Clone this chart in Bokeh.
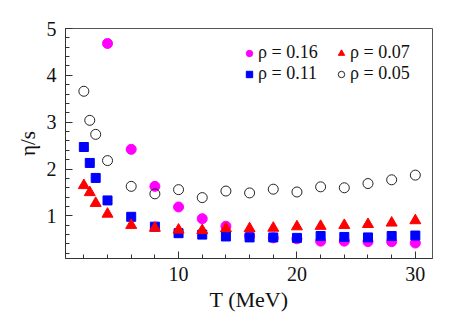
from bokeh.plotting import figure
from bokeh.models import FixedTicker, Legend, LegendItem
from bokeh.embed import file_html
from bokeh.resources import INLINE

T = [2, 2.5, 3, 4, 6, 8, 10, 12, 14, 16, 18, 20, 22, 24, 26, 28, 30]
T16 = [4, 6, 8, 10, 12, 14, 16, 18, 20, 22, 24, 26, 28, 30]
rho016 = [4.68, 2.42, 1.63, 1.19, 0.94, 0.78, 0.57, 0.53, 0.51, 0.46, 0.46, 0.45, 0.45, 0.42]
rho011 = [2.47, 2.13, 1.81, 1.33, 0.98, 0.77, 0.63, 0.60, 0.56, 0.54, 0.54, 0.53, 0.57, 0.55, 0.54, 0.57, 0.58]
rho007 = [1.65, 1.50, 1.27, 1.04, 0.80, 0.74, 0.70, 0.69, 0.73, 0.73, 0.74, 0.77, 0.78, 0.80, 0.82, 0.85, 0.90]
rho005 = [3.66, 3.04, 2.74, 2.18, 1.63, 1.47, 1.56, 1.39, 1.53, 1.49, 1.57, 1.51, 1.62, 1.60, 1.69, 1.77, 1.87]
labels = ["\u03c1 = 0.16", "\u03c1 = 0.11", "\u03c1 = 0.07", "\u03c1 = 0.05"]

FONT = "Liberation Serif"

p = figure(width=450, height=324, output_backend="svg", toolbar_location=None,
           x_range=(0.45, 31.45), y_range=(0.09, 5.0),
           min_border_left=65, min_border_right=18, min_border_top=28, min_border_bottom=66)
p.grid.visible = False
p.outline_line_color = "#555555"
p.outline_line_width = 1

r1 = p.scatter(T16, rho016, marker="circle", size=10, fill_color="#ff00ff", line_color="#ff00ff")
r2 = p.scatter(T, rho011, marker="square", size=9, fill_color="#0000ff", line_color="#0000ff")
r3 = p.scatter(T, rho007, marker="triangle", size=11, fill_color="#ff0000", line_color="#ff0000")
r4 = p.scatter(T, rho005, marker="circle", size=10, fill_color=None, line_color="#222222", line_width=1)


def make_legend(items, loc):
    lg = Legend(items=items, location=loc, orientation="vertical")
    lg.label_text_font = FONT
    lg.label_text_font_size = "18px"
    lg.label_text_color = "#111111"
    lg.background_fill_alpha = 0
    lg.border_line_color = None
    lg.glyph_width = 16
    lg.glyph_height = 16
    lg.label_standoff = 1
    lg.spacing = 0
    lg.padding = 0
    lg.margin = 0
    lg.label_height = 20
    return lg


leg1 = make_legend([LegendItem(label=labels[0], renderers=[r1]),
                    LegendItem(label=labels[1], renderers=[r2])], (176, 174))
leg2 = make_legend([LegendItem(label=labels[2], renderers=[r3]),
                    LegendItem(label=labels[3], renderers=[r4])], (268, 174))
p.add_layout(leg1)
p.add_layout(leg2)

for ax in (p.xaxis[0], p.yaxis[0]):
    ax.major_tick_in = 7
    ax.major_tick_out = 0
    ax.minor_tick_in = 4
    ax.minor_tick_out = 0
    ax.axis_line_color = "#333333"
    ax.major_tick_line_color = "#333333"
    ax.minor_tick_line_color = "#333333"
    ax.major_label_text_font = FONT
    ax.major_label_text_font_size = "20px"
    ax.major_label_text_color = "#111111"
    ax.axis_label_text_font = FONT
    ax.axis_label_text_font_style = "normal"
    ax.axis_label_text_color = "#111111"

p.xaxis.axis_label_text_font_size = "22px"
p.yaxis.axis_label_text_font_size = "21px"
p.xaxis.ticker = FixedTicker(ticks=[10, 20, 30], minor_ticks=list(range(2, 31, 2)))
p.yaxis.ticker = FixedTicker(ticks=[1, 2, 3, 4, 5], minor_ticks=[round(0.2 * i, 1) for i in range(1, 26)])
p.xaxis.axis_label = "T (MeV)"
p.yaxis.axis_label = "\u03b7/s"
p.xaxis.major_label_standoff = 8
p.yaxis.major_label_standoff = 9
p.xaxis.axis_label_standoff = 3
p.yaxis.axis_label_standoff = 4

open("out.html", "w").write(file_html(p, INLINE))
